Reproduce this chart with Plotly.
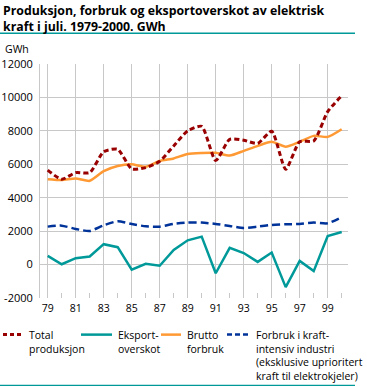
import plotly.graph_objects as go

years = list(range(1979, 2001))
tick_years = list(range(1979, 2000, 2))
tick_labels = [str(y)[2:] for y in tick_years]
y_ticks = list(range(-2000, 12001, 2000))
y_tick_labels = [str(v) for v in y_ticks]

total_produksjon = [5650, 5100, 5500, 5500, 6750, 6900, 5720, 5800, 6180, 7100, 8000, 8270,
                    6220, 7490, 7440, 7250, 7980, 5700, 7350, 7400, 9150, 10100]
eksportoverskot = [520, 20, 380, 480, 1220, 1040, -300, 50, -70, 880, 1450, 1670,
                   -520, 1000, 690, 160, 720, -1350, 220, -390, 1710, 1950]
brutto_forbruk = [5110, 5060, 5150, 5010, 5590, 5900, 6000, 5850, 6200, 6350, 6620, 6680,
                  6690, 6520, 6800, 7100, 7350, 7050, 7350, 7700, 7640, 8100]
kraftintensiv = [2270, 2330, 2130, 2010, 2350, 2590, 2430, 2290, 2270, 2430, 2510, 2510,
                 2430, 2310, 2190, 2270, 2370, 2410, 2430, 2510, 2470, 2830]

series_names = ["Total produksjon", "Eksportoverskot", "Brutto forbruk",
                "Forbruk i kraftintensiv industri"]

RED = "#990000"
TEAL = "#009999"
ORANGE = "#FF9933"
NAVY = "#003399"
FONT = "Open Sans"

W, H = 367, 387
L, R, T, B = 40, 19, 63.5, 89
PW, PH = W - L - R, H - T - B


def px(x):
    return (x - L) / PW


def py(y):
    return (H - B - y) / PH


fig = go.Figure()
fig.add_trace(go.Scatter(x=years, y=brutto_forbruk, name=series_names[2], mode="lines",
                         line=dict(color=ORANGE, width=2.5, shape="spline", smoothing=0.6)))
fig.add_trace(go.Scatter(x=years, y=kraftintensiv, name=series_names[3], mode="lines",
                         line=dict(color=NAVY, width=2.5, dash="8px,4px", shape="spline", smoothing=0.6)))
fig.add_trace(go.Scatter(x=years, y=eksportoverskot, name=series_names[1], mode="lines",
                         line=dict(color=TEAL, width=2.5)))
fig.add_trace(go.Scatter(x=years, y=total_produksjon, name=series_names[0], mode="lines",
                         line=dict(color=RED, width=3, dash="5px,3px", shape="spline", smoothing=0.6)))

shapes = []
annotations = []

# separator lines
for yy in (32.7, 385.5):
    shapes.append(dict(type="line", xref="paper", yref="paper", x0=px(0), x1=px(355),
                       y0=py(yy), y1=py(yy), line=dict(color=TEAL, width=1.3)))

# title
annotations.append(dict(text="<b>Produksjon, forbruk og eksportoverskot av elektrisk<br>kraft i juli. 1979-2000. GWh</b>",
                        xref="paper", yref="paper", x=px(1), y=py(-1), xanchor="left", yanchor="top",
                        align="left", showarrow=False,
                        font=dict(family=FONT, size=12.3, color="#000")))

# manual legend
legend_items = [
    (3, 23, RED, "4px,3px", 3, 28, "Total<br>produksjon"),
    (81, 112, TEAL, "solid", 2.5, 117, "Eksport-<br>overskot"),
    (161, 181, ORANGE, "solid", 2.5, 186, "Brutto<br>forbruk"),
    (227, 249, NAVY, "5px,3px", 2.5, 255, "Forbruk i kraft-<br>intensiv industri<br>"
                                          "(eksklusive uprioritert<br>kraft til elektrokjeler)"),
]
for x0, x1, col, dash, wd, tx, text in legend_items:
    shapes.append(dict(type="line", xref="paper", yref="paper", x0=px(x0), x1=px(x1),
                       y0=py(334.7), y1=py(334.7), line=dict(color=col, width=wd, dash=dash)))
    annotations.append(dict(text=text, xref="paper", yref="paper", x=px(tx - 1), y=py(326.5),
                            xanchor="left", yanchor="top", align="left", showarrow=False,
                            font=dict(family=FONT, size=10.5, color="#000")))

annotations.append(dict(text="GWh", xref="paper", yref="paper", x=px(3), y=py(48),
                        xanchor="left", yanchor="middle", showarrow=False,
                        font=dict(family=FONT, size=10.5, color="#000")))

fig.update_layout(
    width=W, height=H,
    margin=dict(l=L, r=R, t=T, b=B, pad=0, autoexpand=False),
    paper_bgcolor="white", plot_bgcolor="white",
    showlegend=False,
    font=dict(family=FONT, size=11, color="#000"),
    shapes=shapes,
    annotations=annotations,
)
fig.update_xaxes(range=[1978.45, 2000.45], tickvals=tick_years, ticktext=tick_labels,
                 automargin=False,
                 showgrid=True, gridcolor="#c8c8c8", gridwidth=1, zeroline=False,
                 showline=False, ticks="", ticklabelstandoff=2,
                 tickfont=dict(family=FONT, size=10.5, color="#000"),
                 minor=dict(tickvals=list(range(1980, 2001, 2)), ticks="inside", ticklen=5,
                            tickcolor="#c8c8c8", tickwidth=1, showgrid=False))
fig.update_yaxes(range=[-2000, 12000], tickvals=y_ticks, ticktext=y_tick_labels,
                 automargin=False,
                 showgrid=True, gridcolor="#c8c8c8",
                 gridwidth=1, zeroline=False, showline=True, linecolor="#c8c8c8", linewidth=1,
                 ticks="", ticklabelstandoff=4,
                 tickfont=dict(family=FONT, size=11, color="#000"))

fig.write_html("out.html", config={"displayModeBar": False},
               post_script="document.body.style.margin='0px';document.body.style.overflow='hidden';")
